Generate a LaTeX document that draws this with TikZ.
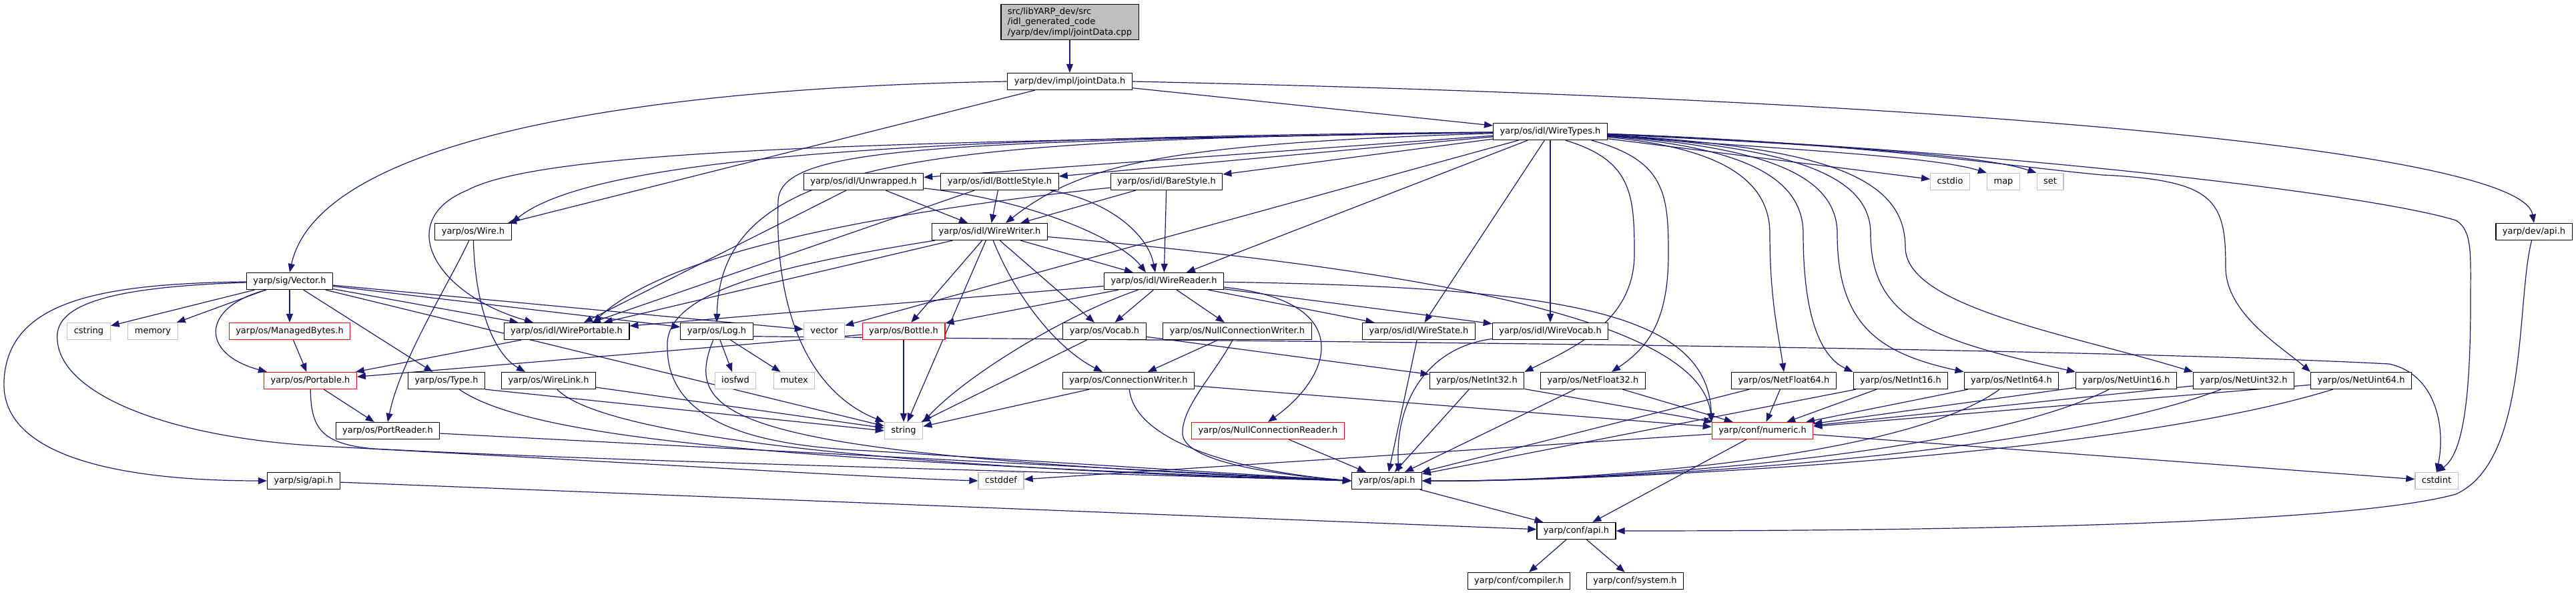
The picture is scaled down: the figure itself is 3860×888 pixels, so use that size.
\documentclass[tikz,border=0pt]{standalone}
\usepackage{fontspec}
\setmainfont{DejaVu Sans}
\usetikzlibrary{arrows.meta, backgrounds}
\definecolor{graphEdge}{HTML}{191970}
\definecolor{graphRed}{HTML}{FF0000}
\definecolor{graphGray}{HTML}{BFBFBF}

\begin{document}
\begin{tikzpicture}[
        x=1pt, y=-1pt,
        font=\fontsize{13}{15.5}\selectfont,
        filebox/.style={
            draw=black,
            fill=white,
            line width=1.2pt,
            minimum height=25pt,
            inner xsep=10pt,
            text height=9.5pt,
            text depth=2.8pt
        },
        truncbox/.style={
            filebox,
            draw=graphRed
        },
        sysbox/.style={
            filebox,
            draw=graphGray
        },
        rootbox/.style={
            draw=black,
            fill=graphGray,
            line width=1.2pt,
            align=left,
            inner xsep=10pt,
            inner ysep=5pt
        },
        dep/.style={
            draw=graphEdge,
            line width=1.2pt,
            -{Triangle[length=13pt,width=10pt]}
        }
    ]

    \useasboundingbox (0,0) rectangle (3860,888);

    % files, row by row (pixel coordinates, y downwards)
    \node[rootbox] (root) at (1603,33) {src/libYARP\_dev/src\\/idl\_generated\_code\\/yarp/dev/impl/jointData.cpp};
    \node[filebox] (jointdata) at (1603,122) {yarp/dev/impl/jointData.h};
    \node[filebox] (wiretypes) at (2323,197) {yarp/os/idl/WireTypes.h};

    \node[filebox] (unwrapped) at (1294,272) {yarp/os/idl/Unwrapped.h};
    \node[filebox] (bottlestyle) at (1498,272) {yarp/os/idl/BottleStyle.h};
    \node[filebox] (barestyle) at (1748,272) {yarp/os/idl/BareStyle.h};
    \node[sysbox] (cstdio) at (2922,272) {cstdio};
    \node[sysbox] (map) at (3002,272) {map};
    \node[sysbox] (set) at (3072,272) {set};

    \node[filebox] (wire) at (709,347) {yarp/os/Wire.h};
    \node[filebox] (wirewriter) at (1483,347) {yarp/os/idl/WireWriter.h};
    \node[filebox] (devapi) at (3797,347) {yarp/dev/api.h};

    \node[filebox] (vector) at (434,421) {yarp/sig/Vector.h};
    \node[filebox] (wirereader) at (1744,421) {yarp/os/idl/WireReader.h};

    \node[sysbox] (cstring) at (133,496) {cstring};
    \node[sysbox] (memory) at (229,496) {memory};
    \node[truncbox] (managedbytes) at (434,496) {yarp/os/ManagedBytes.h};
    \node[filebox] (wireportable) at (849,496) {yarp/os/idl/WirePortable.h};
    \node[filebox] (log) at (1074,496) {yarp/os/Log.h};
    \node[sysbox] (stdvector) at (1235,496) {vector};
    \node[truncbox] (bottle) at (1354,496) {yarp/os/Bottle.h};
    \node[filebox] (vocab) at (1655,496) {yarp/os/Vocab.h};
    \node[filebox] (nullwriter) at (1854,496) {yarp/os/NullConnectionWriter.h};
    \node[filebox] (wirestate) at (2126,496) {yarp/os/idl/WireState.h};
    \node[filebox] (wirevocab) at (2323,496) {yarp/os/idl/WireVocab.h};

    \node[truncbox] (portable) at (465,570) {yarp/os/Portable.h};
    \node[filebox] (type) at (669,570) {yarp/os/Type.h};
    \node[filebox] (wirelink) at (822,570) {yarp/os/WireLink.h};
    \node[sysbox] (iosfwd) at (1102,570) {iosfwd};
    \node[sysbox] (mutex) at (1190,570) {mutex};
    \node[filebox] (connwriter) at (1691,570) {yarp/os/ConnectionWriter.h};
    \node[filebox] (netint32) at (2213,570) {yarp/os/NetInt32.h};
    \node[filebox] (netfloat32) at (2387,570) {yarp/os/NetFloat32.h};
    \node[filebox] (netfloat64) at (2673,570) {yarp/os/NetFloat64.h};
    \node[filebox] (netint16) at (2848,570) {yarp/os/NetInt16.h};
    \node[filebox] (netint64) at (3014,570) {yarp/os/NetInt64.h};
    \node[filebox] (netuint16) at (3186,570) {yarp/os/NetUint16.h};
    \node[filebox] (netuint32) at (3362,570) {yarp/os/NetUint32.h};
    \node[filebox] (netuint64) at (3538,570) {yarp/os/NetUint64.h};

    \node[filebox] (portreader) at (581,645) {yarp/os/PortReader.h};
    \node[sysbox] (string) at (1354,645) {string};
    \node[truncbox] (nullreader) at (1900,645) {yarp/os/NullConnectionReader.h};
    \node[truncbox] (numeric) at (2641,645) {yarp/conf/numeric.h};

    \node[filebox] (sigapi) at (455,720) {yarp/sig/api.h};
    \node[sysbox] (cstddef) at (1500,720) {cstddef};
    \node[filebox] (osapi) at (2078,720) {yarp/os/api.h};
    \node[sysbox] (cstdint) at (3651,720) {cstdint};

    \node[filebox] (confapi) at (2362,795) {yarp/conf/api.h};
    \node[filebox] (compiler) at (2276,870) {yarp/conf/compiler.h};
    \node[filebox] (system) at (2450,870) {yarp/conf/system.h};

    % include edges, behind the boxes
    \begin{scope}[on background layer]
        \draw[dep] (root) -- (jointdata);
        \draw[dep] (jointdata) -- (wiretypes);
        \draw[dep] (jointdata) -- (wire);
        \draw[dep] (jointdata.west) .. controls (1000,130) and (480,200) .. (vector.north);
        \draw[dep] (jointdata.east) .. controls (3000,150) and (3780,230) .. (devapi.north);

        \draw[dep] (wiretypes) .. controls (1500,205) and (900,225) .. (wire.north east);
        \draw[dep] (wiretypes) .. controls (1400,212) and (820,220) .. (700,285) .. controls (590,330) and (650,440) .. ([xshift=-50pt]wireportable.north);
        \draw[dep] (wiretypes) .. controls (1400,210) and (1080,230) .. (log.north);
        \draw[dep] (wiretypes) .. controls (1400,212) and (1170,220) .. (1166,300) .. controls (1160,480) and (1220,590) .. (string.north west);
        \draw[dep] (wiretypes) -- (unwrapped);
        \draw[dep] (wiretypes) -- (bottlestyle);
        \draw[dep] (wiretypes) -- (barestyle);
        \draw[dep] (wiretypes) .. controls (1750,215) and (1620,245) .. ([xshift=24pt]wirewriter.north);
        \draw[dep] (wiretypes) -- (wirereader);
        \draw[dep] (wiretypes) -- (stdvector);
        \draw[dep] (wiretypes) -- (wirestate);
        \draw[dep] (wiretypes) -- (wirevocab);
        \draw[dep] (wiretypes) -- (cstdio);
        \draw[dep] (wiretypes) .. controls (2700,225) and (2900,235) .. (map.north west);
        \draw[dep] (wiretypes) .. controls (2800,220) and (2980,235) .. (set.north west);
        \draw[dep] (wiretypes.-30) .. controls (2445,240) and (2449,290) .. (2449,380) .. controls (2449,480) and (2360,520) .. (netint32.north east);
        \draw[dep] (wiretypes.-12) .. controls (2495,240) and (2500,290) .. (2500,380) .. controls (2500,480) and (2470,520) .. ([xshift=28pt]netfloat32.north);
        \draw[dep] (wiretypes) .. controls (2560,220) and (2652,260) .. (2652,350) .. controls (2652,450) and (2665,500) .. (netfloat64.north);
        \draw[dep] (wiretypes) .. controls (2600,220) and (2702,260) .. (2702,350) .. controls (2702,500) and (2740,540) .. (netint16.north west);
        \draw[dep] (wiretypes) .. controls (2640,220) and (2753,260) .. (2753,350) .. controls (2753,490) and (2820,530) .. (netint64.north west);
        \draw[dep] (wiretypes) .. controls (2680,220) and (2803,260) .. (2803,350) .. controls (2803,480) and (2900,510) .. (netuint16.north west);
        \draw[dep] (wiretypes) .. controls (2720,220) and (2855,260) .. (2855,370) .. controls (2855,460) and (3100,500) .. (netuint32.north west);
        \draw[dep] (wiretypes) .. controls (2800,215) and (3000,248) .. (3150,262) .. controls (3320,270) and (3335,300) .. (3335,400) .. controls (3335,470) and (3420,520) .. (netuint64.north west);
        \draw[dep] (wiretypes) .. controls (3000,225) and (3550,290) .. (3680,330) .. controls (3705,345) and (3702,380) .. (3702,450) .. controls (3702,600) and (3690,680) .. (cstdint.north);

        \draw[dep] (wire) .. controls (670,430) and (600,540) .. (portreader.north);
        \draw[dep] (wire) .. controls (712,460) and (740,530) .. ([xshift=-35pt]wirelink.north);

        \draw[dep] (vector) .. controls (150,425) and (12,450) .. (6,570) .. controls (0,690) and (200,720) .. (sigapi.west);
        \draw[dep] (vector) .. controls (150,430) and (80,460) .. (86,510) .. controls (92,590) and (250,655) .. (480,668) .. controls (900,690) and (1300,715) .. (cstddef.west);
        \draw[dep] (vector) -- (cstring);
        \draw[dep] (vector) -- (memory);
        \draw[dep] (vector) -- (managedbytes);
        \draw[dep] ([xshift=-35pt]vector.south) .. controls (300,460) and (300,530) .. ([xshift=-65pt]portable.north);
        \draw[dep] (vector) -- (type);
        \draw[dep] (vector) -- (string);
        \draw[dep] (vector) -- (log);
        \draw[dep] (vector) -- (stdvector);
        \draw[dep] (vector) -- (wireportable);

        \draw[dep] (unwrapped) -- (wireportable);
        \draw[dep] (unwrapped) -- (wirewriter);
        \draw[dep] (unwrapped) .. controls (1550,300) and (1680,360) .. ([xshift=-27pt]wirereader.north);
        \draw[dep] (bottlestyle) -- (wireportable);
        \draw[dep] (bottlestyle) -- (wirewriter);
        \draw[dep] (bottlestyle) .. controls (1660,300) and (1720,350) .. ([xshift=-13pt]wirereader.north);
        \draw[dep] (barestyle) .. controls (1300,320) and (1000,380) .. ([xshift=40pt]wireportable.north);
        \draw[dep] (barestyle) -- (wirewriter);
        \draw[dep] (barestyle) -- (wirereader);

        \draw[dep] (wirewriter) -- (wirereader);
        \draw[dep] (wirewriter) -- (bottle);
        \draw[dep] (wirewriter) -- (string);
        \draw[dep] (wirewriter) .. controls (1520,440) and (1580,520) .. ([xshift=-39pt]connwriter.north);
        \draw[dep] (wirewriter) -- (vocab);
        \draw[dep] (wirewriter) -- (wireportable);
        \draw[dep] (wirewriter) .. controls (1150,400) and (995,440) .. (1000,520) .. controls (1000,640) and (1150,668) .. (1300,675) -- (osapi.west);
        \draw[dep] (wirewriter) .. controls (2200,410) and (2550,490) .. (numeric.north west);

        \draw[dep] (wirereader) -- (wireportable);
        \draw[dep] (wirereader) -- (bottle);
        \draw[dep] (wirereader) -- (vocab);
        \draw[dep] (wirereader) .. controls (1600,470) and (1450,560) .. (string.north east);
        \draw[dep] (wirereader) -- (nullwriter);
        \draw[dep] (wirereader) -- (wirestate);
        \draw[dep] (wirereader) -- (wirevocab);
        \draw[dep] (wirereader) .. controls (2030,450) and (2000,560) .. (nullreader.north);
        \draw[dep] (wirereader) .. controls (2350,430) and (2560,470) .. (numeric.north west);

        \draw[dep] (managedbytes) -- (portable);
        \draw[dep] (wireportable) -- (portable);
        \draw[dep] (bottle) -- (portable);
        \draw[dep] (bottle) -- (string);
        \draw[dep] (portable) -- (portreader);
        \draw[dep] (portable) .. controls (466,640) and (480,665) .. (560,672) .. controls (900,690) and (1500,705) .. (osapi.west);
        \draw[dep] (type.south east) -- (string.west);
        \draw[dep] (type) .. controls (800,660) and (1200,690) .. (osapi.west);
        \draw[dep] (wirelink) -- (string);
        \draw[dep] (wirelink) .. controls (900,650) and (1300,700) .. (osapi.west);
        \draw[dep] (portreader) -- (osapi.west);
        \draw[dep] (sigapi) -- (confapi);

        \draw[dep] (log) -- (iosfwd);
        \draw[dep] (log) -- (mutex);
        \draw[dep] (log) .. controls (1020,630) and (1100,680) .. (osapi.west);
        \draw[dep] (log.-8) .. controls (1500,508) and (3000,515) .. (3580,545) .. controls (3650,560) and (3665,640) .. (cstdint.north);

        \draw[dep] (vocab) -- (string);
        \draw[dep] (vocab) -- (netint32);
        \draw[dep] (nullwriter) -- (connwriter);
        \draw[dep] (nullwriter) .. controls (1820,560) and (1770,610) .. (1772,650) .. controls (1775,690) and (1900,710) .. (osapi.west);
        \draw[dep] (connwriter) -- (string);
        \draw[dep] (connwriter) .. controls (1700,660) and (1850,705) .. (osapi.west);
        \draw[dep] (connwriter) -- (numeric);
        \draw[dep] (wirestate) -- (osapi);
        \draw[dep] (wirevocab) .. controls (2140,520) and (2090,600) .. ([xshift=18pt]osapi.north);
        \draw[dep] (nullreader) -- (osapi);

        \foreach \src in {netint32, netfloat32, netfloat64, netint16, netint64, netuint16, netuint32, netuint64}
            \draw[dep] (\src) -- (numeric);
        \foreach \src in {netint32, netfloat32, netfloat64, netint16}
            \draw[dep] (\src) -- (osapi);
        \foreach \src/\cx in {netint64/2850, netuint16/2950, netuint32/3050, netuint64/3150}
            \draw[dep] (\src) .. controls (\cx,690) and (2350,722) .. (osapi.east);

        \draw[dep] (numeric) -- (cstddef);
        \draw[dep] (numeric) -- (cstdint);
        \draw[dep] (numeric) -- (confapi);
        \draw[dep] (osapi) -- (confapi);
        \draw[dep] (devapi) .. controls (3770,450) and (3790,690) .. (3680,740) .. controls (3500,790) and (2800,795) .. (confapi.east);
        \draw[dep] (confapi) -- (compiler);
        \draw[dep] (confapi) -- (system);
    \end{scope}

\end{tikzpicture}
\end{document}
